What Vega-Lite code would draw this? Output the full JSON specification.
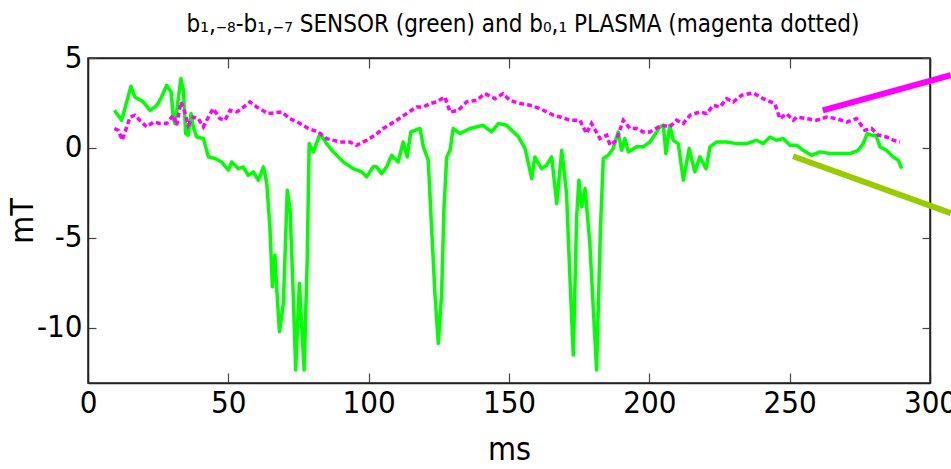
{
  "$schema": "https://vega.github.io/schema/vega-lite/v6.json",
  "width": 842,
  "height": 325,
  "autosize": {"type": "none"},
  "padding": {"left": 88, "top": 58, "right": 21, "bottom": 86},
  "background": "white",
  "config": {
    "view": {"stroke": "#222", "strokeWidth": 1.5},
    "font": "'DejaVu Sans Condensed', 'Liberation Sans', sans-serif",
    "axis": {
      "grid": false,
      "domainColor": "#222",
      "domainWidth": 1.5,
      "tickColor": "#444",
      "tickWidth": 1.2,
      "labelFont": "'DejaVu Sans Condensed', 'Liberation Sans', sans-serif",
      "labelFontSize": 31,
      "labelColor": "black",
      "titleFont": "'DejaVu Sans Condensed', 'Liberation Sans', sans-serif",
      "titleFontSize": 32,
      "titleFontWeight": "normal",
      "titleColor": "black"
    }
  },
  "title": {
    "text": "b₁,₋₈-b₁,₋₇ SENSOR (green) and b₀,₁ PLASMA (magenta dotted)",
    "font": "'DejaVu Sans Condensed', 'Liberation Sans', sans-serif",
    "fontSize": 24,
    "fontWeight": "normal",
    "color": "black",
    "anchor": "middle",
    "dx": 14,
    "offset": 5
  },
  "datasets": {
    "sensor": [
      {"t": 9.4, "b": 2.09}, {"t": 12, "b": 1.54}, {"t": 15.3, "b": 3.43}, {"t": 16.7, "b": 2.83}, {"t": 19.7, "b": 2.56},
      {"t": 22.1, "b": 2.09}, {"t": 24.5, "b": 2.37}, {"t": 26.2, "b": 2.83}, {"t": 28, "b": 3.48}, {"t": 29.6, "b": 3.11},
      {"t": 30.4, "b": 1.63}, {"t": 31, "b": 1.35}, {"t": 33.1, "b": 3.86}, {"t": 34, "b": 3.2}, {"t": 34.8, "b": 0.8},
      {"t": 35.7, "b": 0.71}, {"t": 36.7, "b": 1.91}, {"t": 37.5, "b": 1.17}, {"t": 38.7, "b": 0.61}, {"t": 41.1, "b": 0.52},
      {"t": 42.9, "b": -0.5}, {"t": 45.3, "b": -0.59}, {"t": 47.6, "b": -0.78}, {"t": 50, "b": -1.24}, {"t": 51.2, "b": -0.78},
      {"t": 53.5, "b": -1.15}, {"t": 55.3, "b": -1.06}, {"t": 57.1, "b": -1.52}, {"t": 58.9, "b": -1.33}, {"t": 60.7, "b": -1.8},
      {"t": 62.5, "b": -1.05}, {"t": 63.7, "b": -1.98}, {"t": 64.8, "b": -4.39}, {"t": 65.7, "b": -7.72}, {"t": 66.6, "b": -5.96},
      {"t": 67.2, "b": -7.72}, {"t": 68.2, "b": -10.22}, {"t": 69.6, "b": -8.65}, {"t": 71, "b": -2.35}, {"t": 72, "b": -3.46},
      {"t": 73.1, "b": -8.09}, {"t": 74, "b": -12.35}, {"t": 75.3, "b": -7.53}, {"t": 77, "b": -12.35}, {"t": 78.1, "b": -6.24},
      {"t": 78.8, "b": 0.24}, {"t": 80.3, "b": -0.22}, {"t": 82.7, "b": 0.8}, {"t": 85, "b": 0.24}, {"t": 87.4, "b": -0.22},
      {"t": 91, "b": -0.78}, {"t": 94.5, "b": -1.15}, {"t": 97.5, "b": -1.33}, {"t": 99.3, "b": -1.61}, {"t": 101.6, "b": -1.05},
      {"t": 102.8, "b": -1.05}, {"t": 104.6, "b": -1.43}, {"t": 106.4, "b": -1.05}, {"t": 108.2, "b": -0.41}, {"t": 110.5, "b": -0.78},
      {"t": 112.3, "b": 0.33}, {"t": 113.7, "b": -0.5}, {"t": 115, "b": 0.89}, {"t": 118.3, "b": 1.08}, {"t": 119.5, "b": 0.06},
      {"t": 121.2, "b": -0.68}, {"t": 122.4, "b": -4.39}, {"t": 123.6, "b": -8.09}, {"t": 124.8, "b": -10.87}, {"t": 126, "b": -8.09},
      {"t": 126.8, "b": -3.46}, {"t": 127.8, "b": -0.5}, {"t": 129, "b": -0.13}, {"t": 130.1, "b": 1.08}, {"t": 132.5, "b": 0.8},
      {"t": 136.1, "b": 1.08}, {"t": 140.8, "b": 1.26}, {"t": 143.8, "b": 0.89}, {"t": 146.2, "b": 1.36}, {"t": 149.2, "b": 1.26},
      {"t": 151.5, "b": 0.89}, {"t": 153.2, "b": 0.66}, {"t": 155.7, "b": -0.03}, {"t": 158.1, "b": -1.7}, {"t": 159.2, "b": -0.5},
      {"t": 161.6, "b": -1.15}, {"t": 163.4, "b": -0.96}, {"t": 165.2, "b": -0.5}, {"t": 167, "b": -3.09}, {"t": 168.8, "b": -0.13},
      {"t": 170.5, "b": -2.53}, {"t": 171.7, "b": -7.17}, {"t": 172.9, "b": -11.52}, {"t": 174.1, "b": -3.83}, {"t": 174.9, "b": -1.79},
      {"t": 175.9, "b": -3.28}, {"t": 177.1, "b": -2.26}, {"t": 178.8, "b": -5.31}, {"t": 181.2, "b": -12.35}, {"t": 182.6, "b": -4.39},
      {"t": 183.6, "b": -0.59}, {"t": 185.4, "b": -0.41}, {"t": 187.1, "b": -0.03}, {"t": 188.9, "b": 0.89}, {"t": 190.1, "b": -0.13},
      {"t": 191.3, "b": 0.52}, {"t": 192.5, "b": -0.22}, {"t": 195.5, "b": 0.06}, {"t": 197.8, "b": 0.06}, {"t": 200.2, "b": 0.33},
      {"t": 202.6, "b": 0.89}, {"t": 203.8, "b": 1.17}, {"t": 205, "b": 1.26}, {"t": 205.9, "b": -0.31}, {"t": 207.3, "b": 1.26},
      {"t": 208.5, "b": 0.43}, {"t": 210.3, "b": 0.24}, {"t": 212.1, "b": -1.79}, {"t": 214.2, "b": -0.03}, {"t": 216.2, "b": -1.33},
      {"t": 218, "b": -0.5}, {"t": 220.2, "b": -1.15}, {"t": 221.6, "b": 0.06}, {"t": 224, "b": 0.33}, {"t": 227.5, "b": 0.33},
      {"t": 231.1, "b": 0.24}, {"t": 234.7, "b": 0.24}, {"t": 238.2, "b": 0.43}, {"t": 240.6, "b": 0.24}, {"t": 243, "b": 0.61},
      {"t": 245.3, "b": 0.43}, {"t": 247.7, "b": 0.52}, {"t": 250.1, "b": 0.15}, {"t": 252.5, "b": 0.15}, {"t": 254.8, "b": -0.13},
      {"t": 257.8, "b": -0.41}, {"t": 260.8, "b": -0.22}, {"t": 264.3, "b": -0.31}, {"t": 267.9, "b": -0.31}, {"t": 271.5, "b": -0.31},
      {"t": 274.4, "b": -0.13}, {"t": 276.2, "b": 0.24}, {"t": 277.6, "b": 0.8}, {"t": 279.2, "b": 0.71}, {"t": 280.7, "b": 0.71},
      {"t": 282.2, "b": 0.06}, {"t": 284.5, "b": -0.13}, {"t": 286.9, "b": -0.5}, {"t": 288.7, "b": -0.68}, {"t": 289.9, "b": -1.15}
    ],
    "plasma": [
      {"t": 9.4, "b": 1.08}, {"t": 10.8, "b": 0.98}, {"t": 12.2, "b": 0.43}, {"t": 13.2, "b": 0.89}, {"t": 15, "b": 1.72},
      {"t": 16.7, "b": 1.82}, {"t": 19.1, "b": 1.44}, {"t": 20.9, "b": 1.17}, {"t": 23.3, "b": 1.44}, {"t": 25.6, "b": 1.36},
      {"t": 28, "b": 1.36}, {"t": 30.4, "b": 1.82}, {"t": 31.6, "b": 1.26}, {"t": 33.1, "b": 2.56}, {"t": 34.3, "b": 2.09},
      {"t": 35.7, "b": 1.26}, {"t": 37.5, "b": 1.72}, {"t": 39.3, "b": 1.63}, {"t": 41.1, "b": 1.17}, {"t": 42.9, "b": 1.72},
      {"t": 44.6, "b": 2.19}, {"t": 47, "b": 1.63}, {"t": 48.8, "b": 1.54}, {"t": 50.6, "b": 2.09}, {"t": 53, "b": 2.0},
      {"t": 54.8, "b": 2.19}, {"t": 57.7, "b": 2.56}, {"t": 60.1, "b": 2.28}, {"t": 64.2, "b": 1.91}, {"t": 69, "b": 2.0},
      {"t": 72, "b": 1.63}, {"t": 75.5, "b": 1.36}, {"t": 78.5, "b": 1.08}, {"t": 82, "b": 0.89}, {"t": 85, "b": 0.52},
      {"t": 89.8, "b": 0.33}, {"t": 93.3, "b": 0.33}, {"t": 95.7, "b": 0.15}, {"t": 99.3, "b": 0.43}, {"t": 102.2, "b": 0.71},
      {"t": 105.2, "b": 1.08}, {"t": 110, "b": 1.54}, {"t": 113.5, "b": 1.91}, {"t": 117.1, "b": 2.28}, {"t": 119.5, "b": 2.28},
      {"t": 121.8, "b": 2.46}, {"t": 124.2, "b": 2.56}, {"t": 127.2, "b": 2.83}, {"t": 129, "b": 2.0}, {"t": 131.9, "b": 2.09},
      {"t": 134.9, "b": 2.56}, {"t": 138.5, "b": 2.65}, {"t": 141.4, "b": 3.02}, {"t": 145, "b": 2.74}, {"t": 147.9, "b": 3.02},
      {"t": 150.3, "b": 2.65}, {"t": 153.3, "b": 2.5}, {"t": 157.5, "b": 2.37}, {"t": 161, "b": 2.19}, {"t": 165.8, "b": 1.82},
      {"t": 168.2, "b": 1.72}, {"t": 171.7, "b": 1.54}, {"t": 175.3, "b": 1.54}, {"t": 177.6, "b": 0.8}, {"t": 179.4, "b": 1.36},
      {"t": 182.4, "b": 0.52}, {"t": 184.8, "b": 0.71}, {"t": 186, "b": 0.15}, {"t": 188.3, "b": 0.43}, {"t": 190.7, "b": 1.54},
      {"t": 193.1, "b": 1.08}, {"t": 195.5, "b": 1.08}, {"t": 197.8, "b": 0.89}, {"t": 200.2, "b": 0.89}, {"t": 202.6, "b": 1.1},
      {"t": 204.4, "b": 1.26}, {"t": 207.3, "b": 1.17}, {"t": 209.7, "b": 1.54}, {"t": 212.1, "b": 1.36}, {"t": 214.5, "b": 1.82},
      {"t": 218, "b": 2.0}, {"t": 220.4, "b": 1.91}, {"t": 222.8, "b": 2.37}, {"t": 225.2, "b": 2.28}, {"t": 227.5, "b": 2.74},
      {"t": 229.9, "b": 2.56}, {"t": 232.9, "b": 2.93}, {"t": 237, "b": 3.06}, {"t": 240.6, "b": 2.74}, {"t": 244.7, "b": 2.46},
      {"t": 246.5, "b": 1.63}, {"t": 248.9, "b": 1.91}, {"t": 251.3, "b": 1.54}, {"t": 252.5, "b": 1.72}, {"t": 256, "b": 1.63},
      {"t": 259.6, "b": 1.54}, {"t": 263.2, "b": 1.72}, {"t": 266.7, "b": 1.63}, {"t": 270.3, "b": 1.44}, {"t": 273.8, "b": 1.63},
      {"t": 276.8, "b": 0.98}, {"t": 279.2, "b": 1.08}, {"t": 281.6, "b": 0.71}, {"t": 284.5, "b": 0.61}, {"t": 286.9, "b": 0.43},
      {"t": 289.3, "b": 0.33}
    ],
    "pointers": [
      {"series": "plasma", "t": 261.8, "b": 2.09, "t2": 307.4, "b2": 4.04},
      {"series": "sensor", "t": 251.2, "b": -0.46, "t2": 307.4, "b2": -3.63}
    ]
  },
  "layer": [
    {
      "data": {"name": "sensor"},
      "mark": {"type": "line", "stroke": "#00FF00", "strokeWidth": 3.5, "strokeJoin": "round"},
      "encoding": {
        "x": {
          "field": "t", "type": "quantitative",
          "scale": {"domain": [0, 300], "nice": false, "zero": false},
          "axis": {"orient": "bottom", "values": [0, 50, 100, 150, 200, 250, 300], "tickSize": -10, "labelPadding": 15, "title": "ms", "titlePadding": 16, "labelFlush": false}
        },
        "y": {
          "field": "b", "type": "quantitative",
          "scale": {"domain": [-13.07, 5], "nice": false, "zero": false},
          "axis": {"orient": "left", "values": [-10, -5, 0, 5], "tickSize": -8, "labelPadding": 14, "labelExpr": "'' + datum.value", "title": "mT", "titlePadding": -3, "labelFlush": false}
        }
      }
    },
    {
      "data": {"name": "plasma"},
      "mark": {"type": "line", "stroke": "#FF00FF", "strokeWidth": 3.5, "strokeDash": [5, 3]},
      "encoding": {
        "x": {
          "field": "t", "type": "quantitative",
          "axis": {"orient": "top", "values": [0, 50, 100, 150, 200, 250, 300], "tickSize": -10, "labels": false, "title": null}
        },
        "y": {
          "field": "b", "type": "quantitative",
          "axis": {"orient": "right", "values": [-10, -5, 0, 5], "tickSize": -8, "labels": false, "title": null}
        }
      }
    },
    {
      "data": {"name": "pointers"},
      "mark": {"type": "rule", "strokeWidth": 6, "clip": false},
      "encoding": {
        "x": {"field": "t", "type": "quantitative", "axis": null},
        "y": {"field": "b", "type": "quantitative", "axis": null},
        "x2": {"field": "t2"},
        "y2": {"field": "b2"},
        "color": {"field": "series", "type": "nominal", "scale": {"domain": ["plasma", "sensor"], "range": ["#FF00FF", "#99CC00"]}, "legend": null}
      }
    }
  ],
  "resolve": {"axis": {"x": "independent", "y": "independent"}}
}
